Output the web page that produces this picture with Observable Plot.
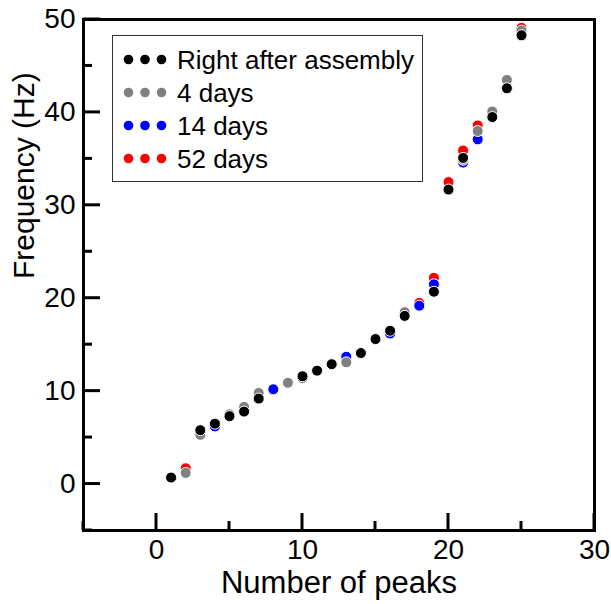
<!DOCTYPE html>
<html>
<head>
<meta charset="utf-8">
<script src="https://cdn.jsdelivr.net/npm/d3@7"></script>
<script src="https://cdn.jsdelivr.net/npm/@observablehq/plot@0.6"></script>
<style>
  html, body { margin: 0; padding: 0; background: #fff; }
  #wrap { position: relative; width: 611px; height: 604px; font-family: "Liberation Sans", Arial, sans-serif; }
  #legend { position: absolute; left: 112px; top: 35px; }
</style>
</head>
<body>
<div id="wrap"></div>
<script>
// ---- data ----
const seriesNames = ["Right after assembly", "4 days", "14 days", "52 days"];
const seriesColors = ["#000000", "#808080", "#0000ff", "#ff0000"];

const peaksAssembly = [1, 3, 4, 5, 6, 7, 10, 11, 12, 14, 15, 16, 17, 19, 20, 21, 23, 24, 25];
const freqAssembly  = [0.7, 5.8, 6.5, 7.3, 7.8, 9.2, 11.6, 12.2, 12.9, 14.1, 15.6, 16.5, 18.1, 20.7, 31.7, 35.1, 39.5, 42.6, 48.3];

const peaks4d = [2, 3, 5, 6, 7, 9, 10, 13, 17, 21, 22, 23, 24, 25];
const freq4d  = [1.2, 5.3, 7.5, 8.3, 9.8, 10.9, 11.4, 13.1, 18.5, 34.9, 38.0, 40.1, 43.5, 48.8];

const peaks14d = [4, 8, 13, 16, 18, 19, 21, 22];
const freq14d  = [6.2, 10.2, 13.7, 16.2, 19.2, 21.5, 34.6, 37.1];

const peaks52d = [2, 18, 19, 20, 21, 22, 25];
const freq52d  = [1.7, 19.5, 22.2, 32.5, 35.9, 38.6, 49.1];

const xMajorTicks = [0, 10, 20, 30];
const xMinorTicks = [-5, 5, 15, 25];
const yMajorTicks = [0, 10, 20, 30, 40, 50];
const yMinorTicks = [-5, 5, 15, 25, 35, 45];

// ---- table built from the arrays ----
const toRows = (xs, ys, s) => xs.map((x, i) => ({peak: x, freq: ys[i], series: s}));
// drawing order: 52 days, 14 days, 4 days, then Right after assembly on top
const rows = [
  ...toRows(peaks52d, freq52d, seriesNames[3]),
  ...toRows(peaks14d, freq14d, seriesNames[2]),
  ...toRows(peaks4d, freq4d, seriesNames[1]),
  ...toRows(peaksAssembly, freqAssembly, seriesNames[0])
];

const font = "Liberation Sans, Arial, Helvetica, sans-serif";
const W = 611, H = 604, mL = 83, mR = 17, mT = 19, mB = 74;
const majorLen = 17, minorLen = 9;

const chart = Plot.plot({
  width: W,
  height: H,
  marginLeft: mL,
  marginRight: mR,
  marginTop: mT,
  marginBottom: mB,
  style: {fontFamily: font, color: "#000", background: "#fff", overflow: "visible"},
  x: {domain: [-5, 30]},
  y: {domain: [-5, 50]},
  color: {domain: seriesNames, range: seriesColors},
  marks: [
    // tick labels
    Plot.axisX(xMajorTicks, {tickSize: 0, tickPadding: 9, fontSize: 28, label: null}),
    Plot.axisY(yMajorTicks, {tickSize: 0, tickPadding: 8, fontSize: 28, label: null}),
    // axis titles
    Plot.text(["Number of peaks"], {frameAnchor: "bottom", dy: 62, fontSize: 31, text: d => d}),
    Plot.text(["Frequency (Hz)"], {frameAnchor: "left", dx: -59, dy: 4, rotate: -90, fontSize: 30, text: d => d}),
    // data
    Plot.dot(rows, {x: "peak", y: "freq", fill: "series", stroke: "white", strokeWidth: 1, r: 5.5}),
    Plot.frame({strokeWidth: 3})
  ]
});

// inward tick marks, positioned through the plot's own scales
const sx = chart.scale("x"), sy = chart.scale("y");
const yBottom = H - mB, xLeft = mL;
const tg = d3.select(chart).append("g").attr("stroke", "#000").attr("stroke-width", 3);
const addX = (ticks, len) => ticks.forEach(v => {
  const px = sx.apply(v);
  tg.append("line").attr("x1", px).attr("x2", px).attr("y1", yBottom).attr("y2", yBottom - len);
});
const addY = (ticks, len) => ticks.forEach(v => {
  const py = sy.apply(v);
  tg.append("line").attr("x1", xLeft).attr("x2", xLeft + len).attr("y1", py).attr("y2", py);
});
addX(xMajorTicks, majorLen); addX(xMinorTicks, minorLen);
addY(yMajorTicks, majorLen); addY(yMinorTicks, minorLen);

const wrap = document.getElementById("wrap");
wrap.appendChild(chart);

// legend (inside the plot area, top-left)
const lw = 311, lh = 147;
const leg = d3.create("svg").attr("id", "legend").attr("width", lw).attr("height", lh)
  .style("font-family", font);
leg.append("rect").attr("x", 0.5).attr("y", 0.5).attr("width", lw - 1).attr("height", lh - 1)
  .attr("fill", "#fff").attr("stroke", "#333").attr("stroke-width", 1);
seriesNames.forEach((name, i) => {
  const cy = 24.5 + i * 33;
  [16.5, 33, 49.5].forEach(cx => {
    leg.append("circle").attr("cx", cx).attr("cy", cy).attr("r", 4.8).attr("fill", seriesColors[i]);
  });
  leg.append("text").attr("x", 65).attr("y", cy).attr("dy", "0.36em")
    .attr("font-size", 26).attr("fill", "#000").text(name);
});
wrap.appendChild(leg.node());
</script>
</body>
</html>
